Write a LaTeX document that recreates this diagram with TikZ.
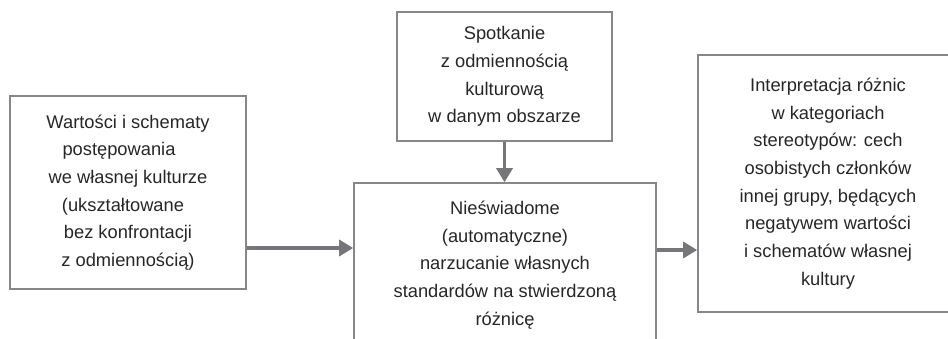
\documentclass[tikz,border=0pt]{standalone}
\usepackage{fontspec}
\setmainfont{Liberation Sans}
\usepackage{xcolor}
\usetikzlibrary{arrows.meta,positioning,calc}
\definecolor{boxgray}{RGB}{135,135,138}
\definecolor{arrgray}{RGB}{118,118,122}
\definecolor{txtgray}{RGB}{38,38,38}
\begin{document}
\begin{tikzpicture}[x=1pt,y=-1pt,
        box/.style = {draw=boxgray,line width=1.6pt,inner sep=0pt,align=center,
                      text=txtgray,font=\fontsize{18.3}{27.7}\selectfont},
        arr/.style = {draw=arrgray,line width=3.2pt,-{Triangle[length=14pt,width=16pt]}}
        ]
        \useasboundingbox (0,0) rectangle (948,338);
        \clip (0,0) rectangle (948,338);

        %Bloki
        \node[box,minimum width=236pt,minimum height=193pt] (wart) at (128,192.5)
            {Wartości i schematy\\ \mbox{postępowania\hspace{18pt}}\\ we własnej kulturze\\
             \mbox{(ukształtowane\hspace{10pt}}\\ bez konfrontacji\\ z odmiennością)};
        \node[box,minimum width=215pt,minimum height=129pt] (spot) at (504.5,76.5)
            {Spotkanie\\ z odmiennością\\ kulturową\\ w danym obszarze};
        \node[box,minimum width=302pt,minimum height=164pt] (nies) at (505,265)
            {Nieświadome\\ (automatyczne)\\ narzucanie własnych\\ standardów na stwierdzoną\\ różnicę};
        \node[box,minimum width=260pt,minimum height=257pt] (interp) at (828,183.5)
            {Interpretacja różnic\\ w kategoriach\\ stereotypów: cech\\ osobistych członków\\
             innej grupy, będących\\ negatywem wartości\\ i schematów własnej\\ kultury};

        %Strzalki
        \draw[arr] ([yshift=-55.5pt]wart.east) coordinate (a1) -- (a1 -| nies.west);
        \draw[arr] (spot.south) -- (spot.south |- nies.north);
        \draw[arr] ([yshift=15pt]nies.east) coordinate (a2) -- (a2 -| interp.west);

    \end{tikzpicture}
\end{document}
